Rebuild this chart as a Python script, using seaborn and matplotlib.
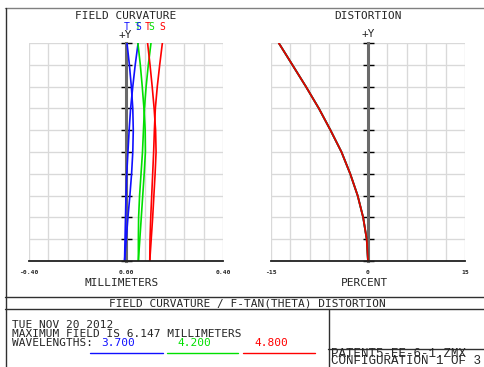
import numpy as np
import pandas as pd
import matplotlib
matplotlib.use("Agg")
import matplotlib.pyplot as plt
from matplotlib.lines import Line2D
import seaborn as sns

# ---------------- data ----------------
field = [0.0, 0.1, 0.2, 0.3, 0.4, 0.5, 0.6, 0.7, 0.8, 0.9, 1.0]
# field curvature (mm), tangential / sagittal per wavelength
t_3700 = [-0.006, 0.001, 0.008, 0.016, 0.023, 0.028, 0.030, 0.028, 0.022, 0.014, 0.004]
s_3700 = [-0.006, -0.004, -0.002, 0.000, 0.003, 0.008, 0.013, 0.019, 0.028, 0.038, 0.050]
t_4200 = [0.051, 0.057, 0.063, 0.069, 0.075, 0.080, 0.079, 0.074, 0.067, 0.059, 0.049]
s_4200 = [0.051, 0.051, 0.052, 0.056, 0.062, 0.068, 0.072, 0.076, 0.083, 0.092, 0.103]
t_4800 = [0.098, 0.104, 0.110, 0.115, 0.120, 0.124, 0.122, 0.116, 0.108, 0.099, 0.089]
s_4800 = [0.098, 0.099, 0.102, 0.106, 0.110, 0.114, 0.117, 0.121, 0.129, 0.139, 0.150]
# f-tan(theta) distortion (percent)
distortion = [0.0, -0.2, -0.75, -1.6, -2.75, -4.1, -5.8, -7.6, -9.6, -11.7, -13.8]

wavelengths = ["3.700", "4.200", "4.800"]
colors = ["#1010ff", "#00e000", "#ff0000"]

fc_xticks = [-0.40, -0.32, -0.24, -0.16, -0.08, 0.0, 0.08, 0.16, 0.24, 0.32, 0.40]
fc_xlabels = ["-0.40", "", "", "", "", "0.00", "", "", "", "", "0.40"]
di_xticks = [-15, -12, -9, -6, -3, 0, 3, 6, 9, 12, 15]
di_xlabels = ["-15", "", "", "", "", "0", "", "", "", "", "15"]

# ---------------- figure ----------------
sns.set_style("white")
plt.rcParams["font.family"] = ["DejaVu Sans Mono", "DejaVu Sans"]
W, H = 484, 367
fig = plt.figure(figsize=(W / 100, H / 100), dpi=100)


def fx(x):
    return x / W


def fy(y):
    return 1 - y / H


PX = 0.72  # points per pixel
MAIN_FS = 8.0

ax1 = fig.add_axes([fx(29), fy(261), fx(223) - fx(29), fy(43) - fy(261)])
ax2 = fig.add_axes([fx(271), fy(261), fx(465) - fx(271), fy(43) - fy(261)])

curves = [
    ("T", t_3700, colors[0]), ("S", s_3700, colors[0]),
    ("T", t_4200, colors[1]), ("S", s_4200, colors[1]),
    ("T", t_4800, colors[2]), ("S", s_4800, colors[2]),
]
for lab, vals, c in curves:
    d = pd.DataFrame({"x": vals, "field": field})
    sns.lineplot(data=d, x="x", y="field", sort=False, estimator=None,
                 color=c, lw=1.2, ax=ax1)

for c in ["#1010ff", "#00c000", "#e00000"]:
    d = pd.DataFrame({"x": distortion, "field": field})
    sns.lineplot(data=d, x="x", y="field", sort=False, estimator=None,
                 color=c, lw=1.3, ax=ax2)

# curve labels at the top end of each curve
label_order = [("T", t_3700, colors[0]), ("T", t_4200, colors[1]),
               ("S", s_3700, colors[0]), ("T", t_4800, colors[2]),
               ("S", s_4200, colors[1]), ("S", s_4800, colors[2])]
for lab, vals, c in label_order:
    ax1.text(vals[-1], 1.072, lab, color=c, fontsize=7.0, ha="center",
             va="center", clip_on=False, transform=ax1.transData)

for ax, xlim, xt, xl in [
    (ax1, (-0.4, 0.4), fc_xticks, fc_xlabels),
    (ax2, (-15, 15), di_xticks, di_xlabels),
]:
    ax.set_xlim(*xlim)
    ax.set_ylim(0, 1)
    ax.set_xticks(xt)
    ax.set_xticklabels(xl, fontsize=4.6, fontweight="bold")
    step = xt[1] - xt[0]
    ax.set_xticks([v + step / 2 for v in xt[:-1]], minor=True)
    ax.set_yticks(np.arange(0, 1.01, 0.1))
    ax.set_yticklabels([])
    ax.grid(True, which="major", color="#d9d9d9", lw=0.95)
    ax.set_axisbelow(True)
    for s in ["top", "right"]:
        ax.spines[s].set_visible(False)
    ax.spines["bottom"].set_color("#202020")
    ax.spines["bottom"].set_linewidth(1.3)
    ax.spines["left"].set_position(("data", 0))
    ax.spines["left"].set_color("#6a6a6a")
    ax.spines["left"].set_linewidth(2.2)
    ax.spines["left"].set_zorder(1.5)
    ax.tick_params(axis="x", which="both", direction="out", length=4 * PX,
                   width=1.0, color="#202020", pad=3.5)
    ax.tick_params(axis="y", which="major", direction="inout", length=11 * PX,
                   width=1.0, color="black", left=True)
    ax.set_xlabel("")
    ax.set_ylabel("")
    ax.patch.set_alpha(0)

# axis titles
fig.text(fx(122), fy(283), "MILLIMETERS", fontsize=MAIN_FS, ha="center", va="center")
fig.text(fx(364), fy(283), "PERCENT", fontsize=MAIN_FS, ha="center", va="center")
fig.text(fx(126), fy(16), "FIELD CURVATURE", fontsize=MAIN_FS, ha="center", va="center")
fig.text(fx(368), fy(16), "DISTORTION", fontsize=MAIN_FS, ha="center", va="center")
fig.text(fx(125.5), fy(35), "+Y", fontsize=MAIN_FS, ha="center", va="center")
fig.text(fx(368), fy(34), "+Y", fontsize=MAIN_FS, ha="center", va="center")


# frame lines
def hline(y, x0, x1, color="#303030", lw=1.0):
    fig.add_artist(Line2D([fx(x0), fx(x1)], [fy(y), fy(y)], color=color, lw=lw,
                          transform=fig.transFigure))


def vline(x, y0, y1, color="#303030", lw=1.0):
    fig.add_artist(Line2D([fx(x), fx(x)], [fy(y0), fy(y1)], color=color, lw=lw,
                          transform=fig.transFigure))


hline(7.5, 5, 484, color="#808080")
vline(5.5, 7.5, 367)
hline(297, 5, 484)
hline(309, 5, 484)
vline(328.5, 309, 367)
hline(349, 328, 484)

fig.text(fx(247), fy(303), "FIELD CURVATURE / F-TAN(THETA) DISTORTION",
         fontsize=MAIN_FS, ha="center", va="center")
fig.text(fx(12), fy(325), "TUE NOV 20 2012", fontsize=MAIN_FS, ha="left", va="center")
fig.text(fx(12), fy(334), "MAXIMUM FIELD IS 6.147 MILLIMETERS", fontsize=MAIN_FS,
         ha="left", va="center")
fig.text(fx(12), fy(343), "WAVELENGTHS:", fontsize=MAIN_FS, ha="left", va="center")
wl_x = [101, 177, 254]
ul = [(90, 163), (167, 238), (243, 315)]
for w, c, x, (u0, u1) in zip(wavelengths, colors, wl_x, ul):
    fig.text(fx(x), fy(343), w, fontsize=MAIN_FS, ha="left", va="center", color=c)
    hline(352.5, u0, u1, color=c, lw=1.0)

fig.text(fx(331), fy(357), "PATENT5-EE-6-1.ZMX", fontsize=9.0, ha="left",
         va="baseline", family="Liberation Mono")
fig.text(fx(331), fy(363.5), "CONFIGURATION 1 OF 3", fontsize=9.0, ha="left",
         va="baseline", family="Liberation Mono")

fig.savefig("out.png", dpi=100)
